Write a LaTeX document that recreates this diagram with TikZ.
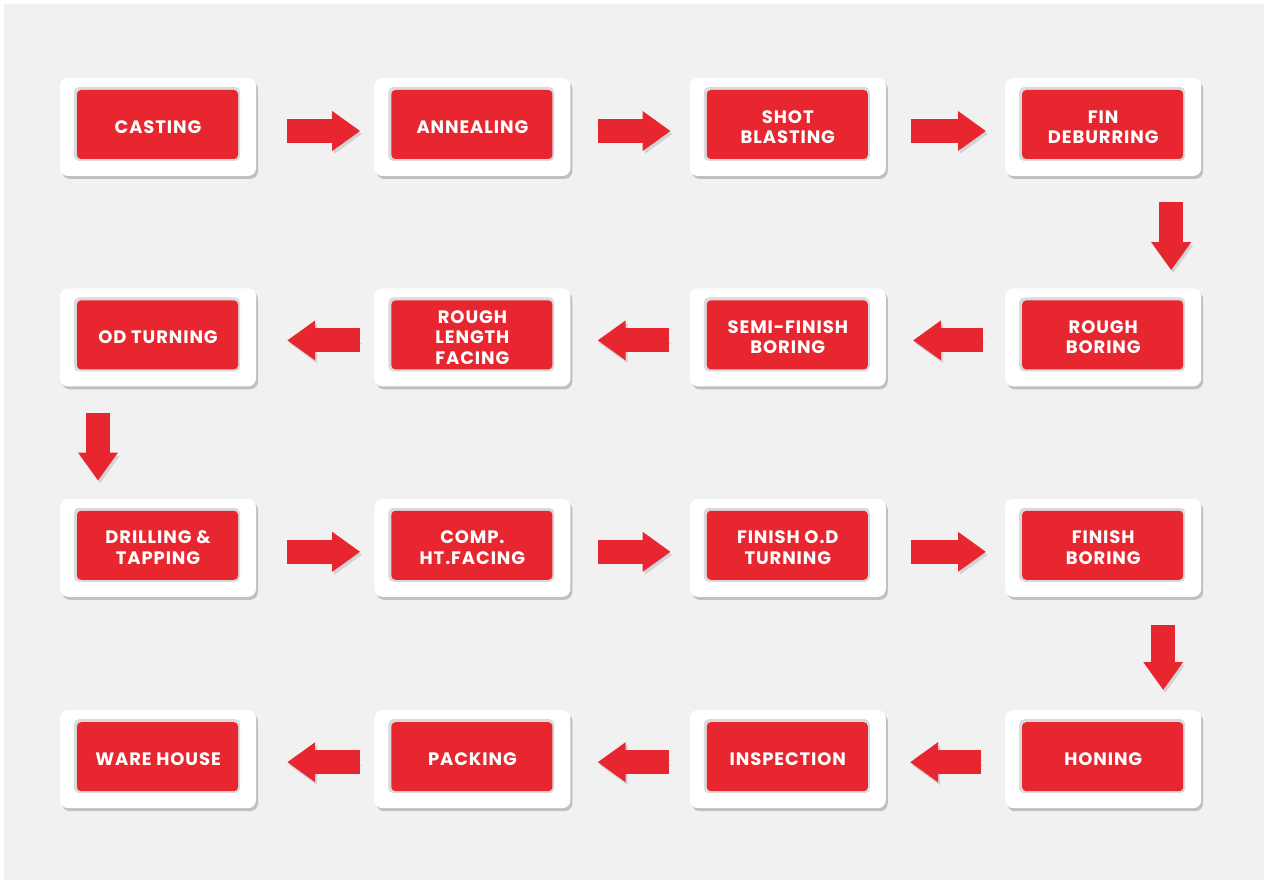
\documentclass[tikz,border=0pt]{standalone}
\usepackage{fontspec}
\usepackage{tikz}
\usetikzlibrary{arrows.meta,positioning,shadows}
\newfontfamily\stagefont[LetterSpace=5]{Poppins}
\definecolor{Stage}{HTML}{E8262F}
\definecolor{Canvas}{HTML}{F1F1F1}
\definecolor{Rim}{HTML}{DADADA}

\begin{document}
\begin{tikzpicture}[x=1pt,y=1pt,>=Latex,
  card/.style={rounded corners=8pt,fill=white,minimum width=196pt,minimum height=98pt,
    drop shadow={shadow xshift=2pt,shadow yshift=-3pt,opacity=.2,fill=black},
    text=white,align=center,inner sep=0pt,
    font=\stagefont\bfseries\fontsize{18}{20.5}\selectfont,
    path picture={
      \fill[Rim,rounded corners=5pt] ([xshift=14pt,yshift=15pt]path picture bounding box.south west)
        rectangle ([xshift=-16pt,yshift=-9pt]path picture bounding box.north east);
      \fill[Stage,rounded corners=4pt] ([xshift=17pt,yshift=17pt]path picture bounding box.south west)
        rectangle ([xshift=-18pt,yshift=-12pt]path picture bounding box.north east);}},
  flow/.style={Stage,line width=24pt,-{Triangle[length=28pt,width=38pt]},
    preaction={draw=black,opacity=.12,transform canvas={shift={(2pt,-3pt)}}}}]
  % page
  \fill[white] (0,0) rectangle (1270,-882);
  \fill[Canvas] (4,-4) rectangle (1264,-880);
  \useasboundingbox (0,0) rectangle (1270,-882);

  % row 1
  \node[card] (cast) at (158,-127) {CASTING};
  \node[card,right=118pt of cast] (anneal) {ANNEALING};
  \node[card,right=119pt of anneal] (shot) {SHOT\\BLASTING};
  \node[card,right=119pt of shot] (fin) {FIN\\DEBURRING};
  % row 2
  \node[card,below=112pt of fin] (rbore) {ROUGH\\BORING};
  \node[card,left=119pt of rbore] (semi) {SEMI-FINISH\\BORING};
  \node[card,left=119pt of semi] (rlen) {ROUGH\\LENGTH\\FACING};
  \node[card,left=118pt of rlen] (od) {OD TURNING};
  % row 3
  \node[card,below=112pt of od] (drill) {DRILLING \&\\TAPPING};
  \node[card,right=118pt of drill] (comp) {COMP.\\HT.FACING};
  \node[card,right=119pt of comp] (fod) {FINISH O.D\\TURNING};
  \node[card,right=119pt of fod] (fbore) {FINISH\\BORING};
  % row 4
  \node[card,below=113pt of fbore] (hone) {HONING};
  \node[card,left=119pt of hone] (insp) {INSPECTION};
  \node[card,left=119pt of insp] (pack) {PACKING};
  \node[card,left=118pt of pack] (ware) {WARE HOUSE};

  % flow
  \draw[flow] ([xshift=31pt,yshift=-4pt]cast.east) -- ([xshift=-14pt,yshift=-4pt]anneal.west);
  \draw[flow] ([xshift=27pt,yshift=-4pt]anneal.east) -- ([xshift=-19pt,yshift=-4pt]shot.west);
  \draw[flow] ([xshift=25pt,yshift=-4pt]shot.east) -- ([xshift=-19pt,yshift=-4pt]fin.west);
  \draw[flow] ([xshift=68pt,yshift=-26pt]fin.south) -- ([xshift=68pt,yshift=18pt]rbore.north);
  \draw[flow] ([xshift=-22pt,yshift=-3pt]rbore.west) -- ([xshift=27pt,yshift=-3pt]semi.east);
  \draw[flow] ([xshift=-21pt,yshift=-3pt]semi.west) -- ([xshift=27pt,yshift=-3pt]rlen.east);
  \draw[flow] ([xshift=-14pt,yshift=-3pt]rlen.west) -- ([xshift=31pt,yshift=-3pt]od.east);
  \draw[flow] ([xshift=-60pt,yshift=-26pt]od.south) -- ([xshift=-60pt,yshift=18pt]drill.north);
  \draw[flow] ([xshift=31pt,yshift=-4pt]drill.east) -- ([xshift=-14pt,yshift=-4pt]comp.west);
  \draw[flow] ([xshift=27pt,yshift=-4pt]comp.east) -- ([xshift=-19pt,yshift=-4pt]fod.west);
  \draw[flow] ([xshift=25pt,yshift=-4pt]fod.east) -- ([xshift=-19pt,yshift=-4pt]fbore.west);
  \draw[flow] ([xshift=60pt,yshift=-28pt]fbore.south) -- ([xshift=60pt,yshift=20pt]hone.north);
  \draw[flow] ([xshift=-24pt,yshift=-3pt]hone.west) -- ([xshift=24pt,yshift=-3pt]insp.east);
  \draw[flow] ([xshift=-21pt,yshift=-3pt]insp.west) -- ([xshift=27pt,yshift=-3pt]pack.east);
  \draw[flow] ([xshift=-14pt,yshift=-3pt]pack.west) -- ([xshift=31pt,yshift=-3pt]ware.east);
\end{tikzpicture}
\end{document}
